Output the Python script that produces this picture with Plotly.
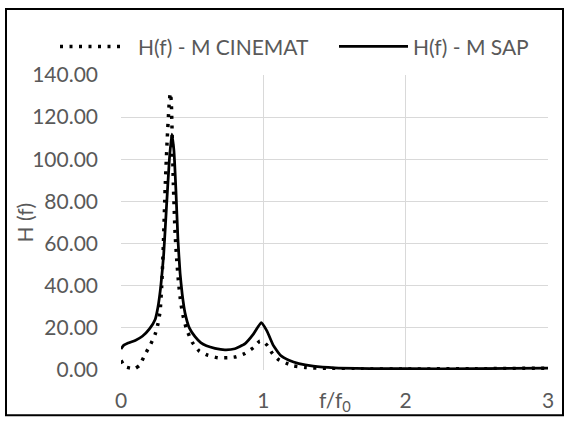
import plotly.graph_objects as go

# ---- data ----
sap_x = [0, 0.02, 0.05, 0.1, 0.15, 0.2, 0.24, 0.26, 0.28, 0.30, 0.32, 0.34, 0.357, 0.372, 0.386,
         0.40, 0.415, 0.43, 0.45, 0.48, 0.52, 0.56, 0.6, 0.66, 0.73, 0.8, 0.87, 0.93, 0.985,
         1.025, 1.07, 1.12, 1.18, 1.25, 1.35, 1.5, 1.75, 2.0, 2.5, 3.0]
sap_y = [10, 11.8, 12.8, 14, 16, 19.5, 24, 30, 40, 55, 78, 100, 112, 104, 85,
         62, 46, 36, 27, 20, 15.8, 13, 11.5, 10.3, 9.6, 10.1, 12.4, 17, 22.5,
         18.6, 11.7, 7, 4.6, 3, 1.8, 1.0, 0.7, 0.6, 0.6, 0.9]

cin_x = [0, 0.03, 0.07, 0.1, 0.13, 0.17, 0.21, 0.24, 0.26, 0.275, 0.286, 0.298, 0.31, 0.325,
         0.338, 0.346, 0.353, 0.36, 0.368, 0.38, 0.392, 0.405, 0.42, 0.435, 0.46, 0.5, 0.55,
         0.61, 0.68, 0.75, 0.81, 0.87, 0.93, 0.975, 1.0, 1.03, 1.06, 1.105, 1.165, 1.21, 1.3,
         1.45, 1.7, 2.0, 2.5, 3.0]
cin_y = [4.5, 1.5, 0.8, 0.8, 2.2, 7.5, 12.5, 17, 22, 28, 40, 60, 86, 110,
         126, 131.5, 128, 110, 88, 65, 52, 41, 32, 26, 19.5, 13.2, 9.0,
         7.0, 5.8, 5.8, 6.3, 7.8, 10.6, 13.7, 13.5, 11.5, 8.2, 5.0, 3.1, 2.0, 1.2,
         0.7, 0.5, 0.5, 0.6, 0.9]

x_ticks = [0, 1, 2, 3]
y_ticks = [0, 20, 40, 60, 80, 100, 120, 140]
name_cin = "H(f) - M CINEMAT"
name_sap = "H(f) - M SAP"

FONT = "Lato"
TXT = "#595959"
GRID = "#d9d9d9"
DOT = "3px,6.5px"

fig = go.Figure()
fig.add_trace(go.Scatter(x=cin_x, y=cin_y, mode="lines", name=name_cin,
                         line=dict(color="black", width=3.5, dash=DOT, shape="spline", smoothing=0.4)))
fig.add_trace(go.Scatter(x=sap_x, y=sap_y, mode="lines", name=name_sap,
                         line=dict(color="black", width=2.75, shape="spline", smoothing=0.4)))

W, H = 568, 424
L, R, T, B = 121, 20, 75, 49
pw, ph = W - L - R, H - T - B

def px(xp):
    return (xp - L) / pw

def py(yp):
    return (H - B - yp) / ph

shapes = [
    # outer frame
    dict(type="rect", xref="paper", yref="paper", x0=px(6), x1=px(563), y0=py(421), y1=py(8),
         line=dict(color="black", width=2), layer="above"),
    # legend samples
    dict(type="line", xref="paper", yref="paper", x0=px(60), x1=px(121), y0=py(46), y1=py(46),
         line=dict(color="black", width=3.5, dash=DOT)),
    dict(type="line", xref="paper", yref="paper", x0=px(339), x1=px(408), y0=py(46), y1=py(46),
         line=dict(color="black", width=2.75)),
]
annotations = [
    dict(text=name_cin, xref="paper", yref="paper", x=px(136), y=py(46), xanchor="left",
         yanchor="middle", showarrow=False, font=dict(family=FONT, size=21, color=TXT)),
    dict(text=name_sap, xref="paper", yref="paper", x=px(411), y=py(46), xanchor="left",
         yanchor="middle", showarrow=False, font=dict(family=FONT, size=21, color=TXT)),
    dict(text="f/f<sub>0</sub>", xref="x", yref="paper", x=1.5, y=py(407), xanchor="center",
         yanchor="middle", showarrow=False, font=dict(family=FONT, size=21, color=TXT)),
    dict(text="H (f)", xref="paper", yref="paper", x=px(24), y=0.5, xanchor="center",
         yanchor="middle", textangle=-90, showarrow=False, font=dict(family=FONT, size=21, color=TXT)),
]

fig.update_layout(
    width=W, height=H, autosize=False,
    margin=dict(l=L, r=R, t=T, b=B, pad=0),
    paper_bgcolor="white", plot_bgcolor="white",
    showlegend=False,
    font=dict(family=FONT, size=21, color=TXT),
    shapes=shapes, annotations=annotations,
    xaxis=dict(range=[0, 3], tickvals=x_ticks, showgrid=True, gridcolor=GRID, gridwidth=1,
               zeroline=False, showline=False, ticks="", ticklabelstandoff=16,
               tickfont=dict(family=FONT, size=21, color=TXT)),
    yaxis=dict(range=[0, 140], tickvals=y_ticks, tickformat=".2f", showgrid=True, gridcolor=GRID,
               gridwidth=1, zeroline=False, showline=False, ticks="", ticklabelstandoff=22,
               tickfont=dict(family=FONT, size=21, color=TXT)),
)

fig.write_html("out.html")
